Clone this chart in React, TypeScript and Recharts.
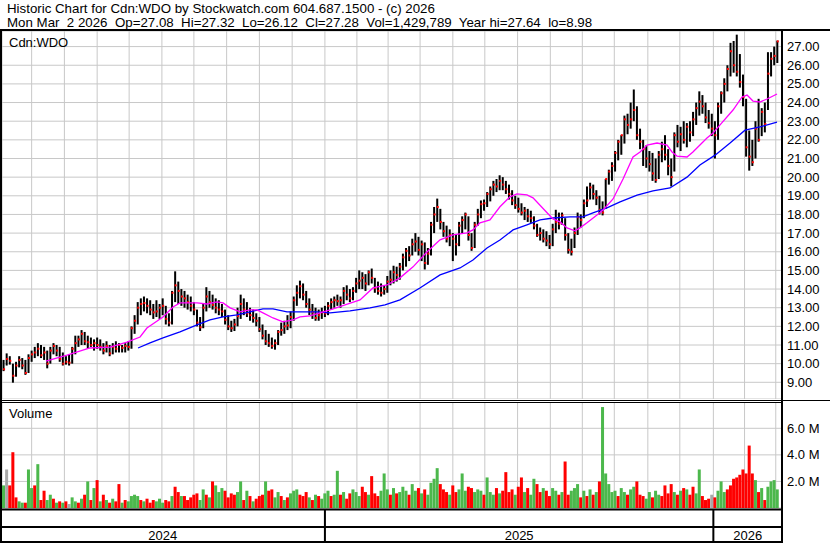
import {
  ComposedChart,
  Bar,
  Line,
  XAxis,
  YAxis,
  CartesianGrid,
} from 'recharts'

const FONT = '"Liberation Sans", Arial, sans-serif'

// x axis runs in trading-day units; each bar below covers two sessions
const X_DOMAIN: [number, number] = [0, 500]
const MONTH_TICKS = [19, 40, 61, 81.5, 102.5, 123, 144, 165, 186, 207, 227.5, 247.5, 268, 289, 309.5, 330.5, 351.5, 372, 392.5, 414, 434.5, 456, 476, 496]
const YEAR_STARTS = [207, 456]
const YEAR_LABELS = ['2024', '2025', '2026']
const YEAR_MIDS = [103, 331.5, 478]

const PRICE_TICKS = [9, 10, 11, 12, 13, 14, 15, 16, 17, 18, 19, 20, 21, 22, 23, 24, 25, 26, 27]
const VOLUME_TICKS = [2, 4, 6]

const HI = [
  10.2, 10.55, 10.4, 10.0, 10.1, 10.4, 10.3, 10.2, 10.5, 10.7,
  10.9, 11.1, 11.0, 10.9, 10.7, 10.9, 11.1, 11.0, 10.9, 10.6,
  10.4, 10.5, 10.9, 11.5, 11.5, 11.8, 11.7, 11.5, 11.4, 11.3,
  11.4, 11.3, 11.1, 11.2, 11.0, 11.1, 11.2, 11.1, 11.0, 11.1,
  11.2, 12.0, 12.6, 13.3, 13.5, 13.6, 13.5, 13.4, 13.2, 13.4,
  13.2, 13.5, 13.1, 12.7, 13.9, 14.95, 14.4, 14.0, 13.9, 13.7,
  13.6, 13.3, 12.9, 12.5, 13.2, 14.1, 13.9, 13.7, 13.5, 13.4,
  13.2, 12.9, 12.6, 12.3, 12.4, 13.0, 13.7, 13.5, 13.3, 13.0,
  12.9, 12.7, 12.5, 12.1, 11.8, 11.6, 11.4, 11.3, 11.8, 12.2,
  12.3, 12.6, 12.8, 13.6, 14.2, 14.45, 14.3, 13.9, 13.5, 13.2,
  13.0, 12.9, 13.0, 13.1, 13.3, 13.5, 13.6, 13.7, 13.6, 14.1,
  14.2, 14.0, 14.1, 14.6, 15.0, 14.9, 14.8, 15.0, 15.1, 14.6,
  14.4, 14.3, 14.2, 14.7, 15.0, 15.25, 15.2, 15.4, 15.9, 16.2,
  16.3, 16.7, 17.0, 16.8, 16.6, 16.5, 16.2, 17.6, 18.4, 18.85,
  18.3, 17.6, 17.4, 17.2, 17.0, 16.9, 17.6, 17.9, 18.1, 17.9,
  17.0, 17.6, 18.3, 18.75, 18.8, 19.2, 19.5, 19.8, 19.9, 20.1,
  20.0, 19.8, 19.6, 19.3, 19.0, 18.9, 18.6, 18.4, 18.3, 18.2,
  17.9, 17.5, 17.3, 17.2, 17.1, 16.9, 17.5, 18.25, 18.1, 18.1,
  17.8, 17.0, 16.7, 17.3, 18.1, 18.0, 18.8, 19.5, 19.7, 19.6,
  19.3, 19.0, 18.7, 19.9, 20.4, 20.8, 21.4, 22.0, 22.25, 23.3,
  23.4, 24.0, 24.7, 23.8, 22.6, 22.0, 21.7, 21.4, 21.3, 21.0,
  21.4, 21.9, 22.25, 21.5, 21.0, 22.4, 22.8, 22.7, 23.0, 22.9,
  23.0, 23.5, 24.0, 24.6, 24.4, 24.0, 23.6, 23.4, 23.0, 24.0,
  24.6, 25.3, 26.0, 27.2, 27.3, 27.64, 26.6, 25.5, 24.2, 22.5,
  22.0, 23.0, 24.2, 23.7, 24.0, 26.7, 26.7, 27.0, 27.32,
]

const LO = [
  9.6, 9.9, 9.95, 8.98, 9.3, 9.8, 9.7, 9.4, 9.5, 10.1,
  10.3, 10.4, 10.3, 10.2, 9.75, 10.0, 10.5, 10.4, 10.1, 9.9,
  9.95, 9.9, 10.0, 10.5, 10.9, 11.0, 11.0, 10.8, 10.9, 10.7,
  10.8, 10.7, 10.5, 10.6, 10.4, 10.5, 10.6, 10.6, 10.6, 10.6,
  10.7, 10.8, 11.6, 12.1, 12.6, 12.8, 12.7, 12.6, 12.4, 12.5,
  12.4, 12.6, 12.1, 12.0, 12.1, 13.3, 13.2, 13.1, 13.0, 12.9,
  12.8, 12.6, 12.0, 11.75, 11.9, 12.8, 13.0, 12.9, 12.7, 12.6,
  12.5, 12.1, 11.8, 11.7, 11.75, 12.0, 12.4, 12.6, 12.5, 12.3,
  12.2, 12.0, 11.7, 11.3, 11.0, 10.9, 10.8, 10.75, 11.0, 11.5,
  11.6, 11.8, 11.9, 12.3, 13.1, 13.5, 13.4, 13.0, 12.6, 12.4,
  12.3, 12.3, 12.4, 12.5, 12.6, 12.9, 13.0, 13.1, 13.0, 13.2,
  13.4, 13.3, 13.4, 13.8, 14.0, 14.0, 13.9, 14.2, 14.3, 13.8,
  13.7, 13.6, 13.7, 13.8, 14.2, 14.3, 14.4, 14.5, 15.0, 15.2,
  15.5, 15.8, 16.0, 15.8, 15.5, 15.05, 15.3, 15.8, 17.0, 17.6,
  17.2, 16.8, 16.5, 16.3, 15.5, 15.8, 16.3, 17.0, 17.2, 16.6,
  16.05, 16.2, 17.4, 17.8, 18.2, 18.4, 18.7, 19.0, 19.2, 19.3,
  19.3, 19.1, 18.8, 18.5, 18.3, 18.1, 17.95, 17.7, 17.6, 17.55,
  17.2, 16.8, 16.6, 16.5, 16.3, 16.15, 16.3, 17.0, 17.2, 17.45,
  16.6, 15.9, 15.8, 16.2, 16.9, 17.3, 17.8, 18.4, 18.8, 18.8,
  18.5, 18.0, 17.95, 18.3, 19.6, 19.8, 20.3, 20.9, 21.2, 21.8,
  22.3, 22.6, 23.0, 22.0, 21.5, 20.6, 20.5, 20.3, 19.8, 19.7,
  19.9, 20.8, 20.9, 20.1, 19.5, 20.3, 21.6, 21.4, 21.8, 21.6,
  21.9, 22.2, 22.8, 23.3, 23.4, 22.9, 22.6, 22.2, 21.0, 22.0,
  23.4, 24.0, 24.6, 25.4, 25.6, 25.4, 24.8, 23.8, 21.1, 20.35,
  20.6, 21.0, 21.9, 22.2, 22.4, 23.6, 25.4, 26.0, 26.12,
]

const CL = [
  9.7, 10.25, 10.15, 9.35, 9.9, 10.2, 9.9, 9.5, 10.3, 10.5,
  10.6, 10.8, 10.45, 10.6, 10.0, 10.7, 10.95, 10.7, 10.25, 10.0,
  10.1, 10.05, 10.8, 11.1, 11.3, 11.6, 11.2, 11.15, 11.0, 11.1,
  11.0, 10.9, 10.7, 10.95, 10.55, 10.9, 10.8, 11.0, 10.85, 10.95,
  10.9, 11.9, 12.3, 13.0, 13.2, 13.25, 13.1, 12.9, 12.75, 12.8,
  13.0, 13.1, 12.4, 12.2, 13.8, 14.2, 13.9, 13.6, 13.5, 13.3,
  13.1, 12.9, 12.2, 11.95, 13.0, 13.6, 13.3, 13.15, 13.0, 12.9,
  12.8, 12.35, 12.0, 11.9, 12.1, 12.55, 13.2, 12.9, 12.7, 12.6,
  12.45, 12.3, 11.85, 11.5, 11.2, 11.1, 10.95, 11.1, 11.7, 11.8,
  12.0, 12.05, 12.5, 13.4, 13.8, 14.15, 13.7, 13.2, 12.9, 12.75,
  12.45, 12.6, 12.75, 12.7, 13.1, 13.3, 13.4, 13.35, 13.4, 13.9,
  13.7, 13.5, 13.9, 14.3, 14.45, 14.6, 14.3, 14.9, 14.6, 14.05,
  13.9, 13.8, 14.0, 14.4, 14.5, 14.9, 14.75, 15.2, 15.7, 16.05,
  15.8, 16.4, 16.55, 16.1, 16.4, 15.4, 15.9, 17.45, 18.0, 18.4,
  17.6, 17.1, 16.7, 16.9, 16.7, 16.4, 17.4, 17.7, 18.0, 16.9,
  16.2, 17.45, 18.0, 18.55, 18.6, 19.1, 19.35, 19.6, 19.5, 19.8,
  19.6, 19.35, 19.1, 18.75, 18.5, 18.3, 18.1, 18.2, 17.9, 17.8,
  17.4, 16.9, 17.0, 16.7, 16.6, 16.4, 17.2, 17.6, 17.5, 17.95,
  16.9, 16.1, 16.0, 17.0, 17.85, 17.7, 18.6, 18.75, 19.45, 19.1,
  18.9, 18.25, 18.1, 19.9, 20.3, 20.6, 21.3, 21.9, 22.25, 23.1,
  22.8, 23.1, 23.6, 22.25, 21.9, 21.5, 21.0, 20.7, 20.2, 19.85,
  21.2, 21.5, 21.2, 20.6, 20.0, 22.25, 21.9, 22.3, 22.0, 22.7,
  22.4, 23.1, 23.7, 24.05, 23.8, 23.2, 22.9, 22.6, 22.25, 23.8,
  24.5, 25.0, 25.8, 26.75, 26.0, 25.65, 25.1, 24.3, 21.6, 21.1,
  20.8, 22.6, 22.0, 23.5, 22.85, 25.55, 26.35, 26.5, 27.28,
]

// volume in millions of shares
const VOL = [
  1.7, 2.9, 1.7, 4.2, 0.8, 0.5, 0.4, 0.4, 2.9, 1.5,
  1.7, 3.3, 0.6, 1.3, 0.6, 1.0, 0.7, 0.4, 0.5, 0.4,
  0.5, 0.3, 0.8, 0.5, 0.4, 0.7, 1.0, 2.0, 0.6, 1.5,
  2.1, 0.5, 1.0, 0.6, 0.4, 0.7, 0.5, 1.8, 0.4, 0.6,
  0.5, 0.9, 1.0, 0.9, 0.6, 0.5, 0.7, 0.4, 0.6, 0.5,
  0.7, 0.4, 0.6, 0.5, 0.9, 1.6, 1.2, 0.9, 0.9, 0.6,
  0.8, 1.0, 1.1, 0.6, 1.4, 1.0, 0.8, 2.0, 1.7, 1.2,
  1.5, 1.3, 0.8, 1.1, 1.0, 1.2, 2.0, 0.6, 1.3, 0.9,
  0.5, 0.7, 0.9, 1.0, 2.0, 1.3, 1.4, 0.8, 1.2, 0.9,
  0.6, 0.8, 1.1, 1.3, 1.4, 1.0, 0.9, 1.2, 0.8, 0.6,
  1.0, 0.9, 0.7, 1.1, 1.3, 0.9, 1.0, 2.8, 1.0, 1.2,
  0.7, 1.1, 1.4, 1.2, 0.9, 1.6, 1.2, 1.0, 2.4, 1.1,
  0.9, 1.3, 2.6, 1.4, 1.0, 1.5, 1.1, 1.2, 1.6, 1.3,
  1.0, 1.8, 1.3, 1.5, 1.1, 1.4, 1.0, 1.9, 2.2, 3.0,
  1.8, 1.4, 1.2, 1.0, 1.7, 1.2, 1.4, 2.6, 1.3, 1.6,
  1.5, 1.2, 1.4, 1.3, 1.0, 2.3, 1.2, 1.0, 1.5, 1.1,
  1.3, 2.7, 1.2, 1.4, 1.0, 1.6, 2.3, 1.2, 1.5, 1.0,
  2.2, 1.8, 1.2, 1.5, 1.3, 0.9, 1.5, 1.3, 1.0, 1.2,
  3.5, 1.0, 1.3, 1.5, 1.8, 0.8, 1.3, 0.9, 1.4, 1.0,
  1.2, 2.0, 7.6, 2.6, 1.8, 1.2, 1.3, 0.9, 1.5, 1.2,
  1.0, 1.4, 1.6, 2.0, 1.0, 0.9, 0.7, 1.2, 0.8, 1.3,
  1.0, 0.9, 1.7, 1.1, 1.8, 1.2, 1.0, 1.3, 1.5, 1.4,
  1.0, 1.6, 1.1, 2.9, 0.9, 0.6, 0.7, 1.0, 0.8, 1.3,
  2.0, 1.2, 1.4, 1.7, 2.2, 2.3, 2.5, 2.9, 2.6, 4.7,
  2.6, 2.1, 1.2, 1.5, 0.6, 1.6, 2.0, 2.1, 1.4,
]

// g = up day, r = down day, n = unchanged
const VOL_DIR = [
  'gnrrrggrgg', 'rgrrggrgrg', 'rnggrgrgrg', 'rgrgrgrrgr', 'ggggrgrrrg',
  'ggrrgrrgrr', 'rrrggrgrgg', 'grrrrggrgr', 'grrrgrrggr', 'grgggrrrgr',
  'grgggrggrg', 'rrgggrrgrr', 'rgggrgrggg', 'rggrgrgggg', 'rrrgrrgggr',
  'rgggrgggrg', 'rrrrgrrgrg', 'grrgrrggrg', 'rrgggrgrgr', 'grgggggrgg',
  'rggrrrggrg', 'grrrrgrgrg', 'rrggrrrnrg', 'ggrrrrrrrr', 'rgrgrgggg',
].join('')

// moving averages: [day, price]
const FAST_MA: [number, number][] = [
  [28.2, 10.14], [41.7, 10.46], [56.4, 10.84], [69.2, 10.89], [80.1, 11.16], [88.5, 11.43],
  [92.9, 11.91], [103.2, 12.5], [109.6, 13.04], [114.1, 13.26], [120.5, 13.26], [125, 13.26],
  [131.4, 13.2], [137.8, 13.31], [141.7, 13.26], [146.2, 12.99], [152.6, 12.78], [159, 12.88],
  [163.5, 12.88], [167.3, 12.72], [173.7, 12.45], [180.1, 12.24], [186.5, 12.35], [191, 12.51],
  [197.4, 12.56], [203.8, 12.72], [210.3, 12.88], [219.9, 13.15], [229.5, 13.42], [237.8, 14.06],
  [246.8, 14.22], [255.1, 14.6], [263.5, 15.19], [272.4, 15.99], [280.8, 16.64], [289.1, 16.9],
  [298.1, 17.01], [301.9, 17.17], [306.4, 17.55], [312.8, 17.71], [319.2, 18.41], [325.6, 18.94],
  [330.1, 19.1], [336.5, 19.05], [340.4, 18.89], [349.4, 18.09], [353.2, 17.76], [357.7, 17.6],
  [362.2, 17.28], [367.3, 17.12], [370.5, 17.28], [375, 17.55], [381.4, 17.97], [385.3, 18.24],
  [391.7, 18.83], [398.1, 19.9], [404.5, 21.08], [409, 21.35], [413.5, 21.72], [419.9, 21.83],
  [426.3, 21.72], [429.5, 21.35], [432.7, 21.13], [439.1, 21.08], [442.9, 21.35], [447.4, 21.72],
  [451.9, 22.1], [455.8, 22.37], [460.3, 22.8], [468.6, 23.6], [474.4, 24.3], [477.6, 24.4],
  [481.4, 24.08], [485.9, 24.03], [490.4, 24.19], [496.8, 24.46],
]

const SLOW_MA: [number, number][] = [
  [87.2, 10.84], [94.9, 11.11], [103.2, 11.38], [114.1, 11.7], [125, 12.08], [133.3, 12.35],
  [141.7, 12.51], [150.6, 12.62], [159, 12.78], [167.3, 12.94], [173.7, 12.94], [182.7, 12.78],
  [191, 12.78], [201.9, 12.78], [210.3, 12.72], [223.1, 12.83], [235.9, 12.99], [245.5, 13.15],
  [255.1, 13.42], [267.9, 14.06], [280.8, 14.76], [293.6, 15.13], [301.9, 15.56], [310.9, 16.2],
  [319.2, 16.63], [327.6, 17.17], [336.5, 17.44], [344.9, 17.71], [353.2, 17.81], [364.1, 17.87],
  [372.4, 17.87], [378.8, 18.08], [387.8, 18.35], [396.2, 18.67], [407.1, 19.04], [417.3, 19.26],
  [428.2, 19.42], [439.1, 20.0], [447.4, 20.65], [457.1, 21.18], [466.7, 21.83], [476.3, 22.52],
  [485.9, 22.69], [496.8, 22.95],
]

const VOL_COLORS: Record<string, string> = { g: '#4cb84c', r: '#ff0000', n: '#a8a8a8' }

const bars = CL.map((cl, k) => ({
  i: k * 2 + 1,
  hi: HI[k],
  lo: LO[k],
  cl,
  range: [LO[k], HI[k]],
  vol: VOL[k],
  dir: VOL_DIR[k],
}))
const fastData = FAST_MA.map(([i, v]) => ({ i, v }))
const slowData = SLOW_MA.map(([i, v]) => ({ i, v }))
const YEAR_AXIS_TICKS = [...YEAR_STARTS, ...YEAR_MIDS]

function OhlcShape(props: any) {
  const { x, y, width, height, payload } = props
  if (x == null || y == null) return null
  const cx = x + width / 2
  const t = payload.hi === payload.lo ? 0 : (payload.hi - payload.cl) / (payload.hi - payload.lo)
  const cy = y + t * height
  return (
    <g>
      <rect x={cx - 1} y={y} width={2} height={Math.max(height, 1)} fill="#000" />
      <rect x={cx - 0.5} y={cy - 1} width={2} height={2} fill="#ff0000" />
    </g>
  )
}

function VolumeShape(props: any) {
  const { x, y, width, height, payload } = props
  if (x == null || y == null) return null
  return <rect x={x} y={y} width={width} height={height} fill={VOL_COLORS[payload.dir] || '#4cb84c'} />
}

function PriceTick(props: any) {
  const { y, payload } = props
  return (
    <text x={785} y={y} dy={4.6} fontSize={13} fontFamily={FONT} fill="#000">
      {Number(payload.value).toFixed(2)}
    </text>
  )
}

function VolumeTick(props: any) {
  const { y, payload } = props
  return (
    <text x={785} y={y} dy={4.6} fontSize={13} fontFamily={FONT} fill="#000">
      {Number(payload.value).toFixed(1) + ' M'}
    </text>
  )
}

// year axis under the volume panel: dividers at year starts, labels in between
function YearTick(props: any) {
  const { x, payload } = props
  const v = payload.value
  if (YEAR_STARTS.indexOf(v) >= 0) return <rect x={x - 1} y={108} width={2} height={33} fill="#000" />
  const n = YEAR_MIDS.indexOf(v)
  return (
    <text x={x} y={137.5} textAnchor="middle" fontSize={13} fontFamily={FONT} fill="#000">
      {YEAR_LABELS[n]}
    </text>
  )
}

export default function App() {
  return (
    <div style={{ position: 'absolute', left: 0, top: 0, width: 830, height: 543, background: '#fff', overflow: 'hidden' }}>
      {/* price panel */}
      <div style={{ position: 'absolute', left: 2, top: 31 }}>
        <ComposedChart width={828} height={368} data={bars} margin={{ top: 0, right: 0, bottom: 0, left: 0 }}>
          <CartesianGrid stroke="#c8c8c8" strokeWidth={1} />
          <XAxis type="number" dataKey="i" domain={X_DOMAIN} ticks={MONTH_TICKS} interval={0} allowDataOverflow hide />
          <YAxis
            orientation="right"
            width={48}
            domain={[8.105, 27.836]}
            ticks={PRICE_TICKS}
            interval={0}
            allowDataOverflow
            axisLine={false}
            tickLine={false}
            tick={(p: any) => <PriceTick {...p} />}
          />
          <Bar dataKey="range" barSize={2} shape={(p: any) => <OhlcShape {...p} />} isAnimationActive={false} />
          <Line data={slowData} dataKey="v" type="linear" stroke="#0000ff" strokeWidth={1.3} dot={false} isAnimationActive={false} />
          <Line data={fastData} dataKey="v" type="linear" stroke="#ff00ff" strokeWidth={1.3} dot={false} isAnimationActive={false} />
        </ComposedChart>
      </div>

      {/* volume panel with the year band below it */}
      <div style={{ position: 'absolute', left: 2, top: 402 }}>
        <ComposedChart
          width={828}
          height={141}
          data={bars}
          margin={{ top: 0, right: 0, bottom: 0, left: 0 }}
          style={{ overflow: 'visible' }}
        >
          <CartesianGrid stroke="#c8c8c8" strokeWidth={1} />
          <XAxis type="number" dataKey="i" domain={X_DOMAIN} ticks={MONTH_TICKS} interval={0} allowDataOverflow hide />
          <XAxis
            xAxisId="yr"
            type="number"
            dataKey="i"
            domain={X_DOMAIN}
            ticks={YEAR_AXIS_TICKS}
            interval={0}
            allowDataOverflow
            height={35}
            axisLine={false}
            tickLine={false}
            tick={(p: any) => <YearTick {...p} />}
          />
          <YAxis
            orientation="right"
            width={48}
            domain={[0, 7.98]}
            ticks={VOLUME_TICKS}
            interval={0}
            allowDataOverflow
            axisLine={false}
            tickLine={false}
            tick={(p: any) => <VolumeTick {...p} />}
          />
          <Bar dataKey="vol" barSize={3} shape={(p: any) => <VolumeShape {...p} />} isAnimationActive={false} />
        </ComposedChart>
      </div>

      {/* frame, header and panel titles */}
      <svg width={830} height={543} style={{ position: 'absolute', left: 0, top: 0, pointerEvents: 'none' }}>
        <g fontFamily={FONT} fontSize={13.3} fill="#000">
          <text x={7} y={13.3} xmlSpace="preserve">Historic Chart for Cdn:WDO by Stockwatch.com 604.687.1500 - (c) 2026</text>
          <text x={7} y={27.3} xmlSpace="preserve">{'Mon Mar  2 2026  Op=27.08  Hi=27.32  Lo=26.12  Cl=27.28  Vol=1,429,789  Year hi=27.64  lo=8.98'}</text>
        </g>
        <text x={9} y={46.7} fontFamily={FONT} fontSize={13} fill="#000">Cdn:WDO</text>
        <text x={9} y={418.3} fontFamily={FONT} fontSize={13} fill="#000">Volume</text>
        <rect x={0} y={29} width={830} height={2} fill="#000" />
        <rect x={0} y={29} width={2} height={514} fill="#000" />
        <rect x={781} y={29} width={2} height={514} fill="#000" />
        <rect x={0} y={400} width={830} height={1} fill="#000" />
        <rect x={0} y={402} width={783} height={1} fill="#000" />
        <rect x={0} y={508.5} width={783} height={2} fill="#000" />
        <rect x={0} y={526} width={783} height={2} fill="#000" />
        <rect x={0} y={541} width={783} height={2} fill="#000" />
      </svg>
    </div>
  )
}
